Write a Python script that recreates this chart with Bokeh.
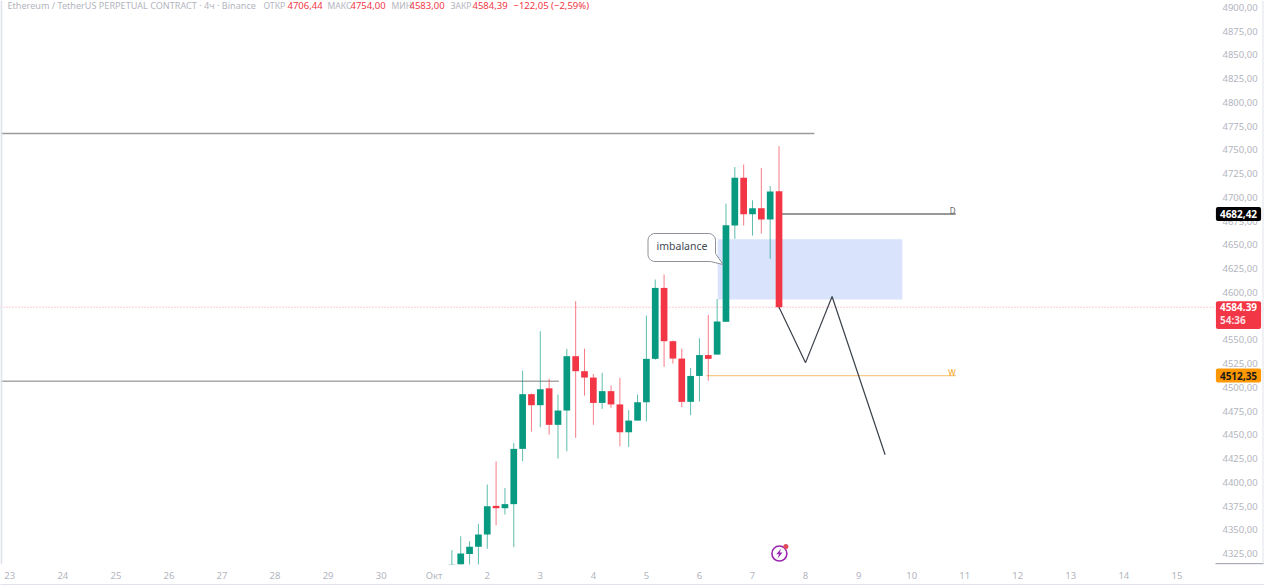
import numpy as np
from bokeh.embed import file_html
from bokeh.resources import INLINE
from bokeh.plotting import figure
from bokeh.models import Range1d, LinearAxis, FixedTicker, Label, Span
from bokeh.core.properties import value

# ---- data ----
opens = [4300, 4310, 4324.6, 4332, 4345, 4374.8, 4372.7, 4377, 4435.2, 4492.8, 4481.2, 4499, 4460.5, 4475.6, 4532.8, 4517,
         4510.3, 4483.6, 4496, 4482, 4452.7, 4465, 4484.3, 4530, 4604.7, 4548.6, 4530.3, 4484.7, 4512, 4534, 4534.5, 4569,
         4670.4, 4720.6, 4682.3, 4688.6, 4676.7, 4706.44]
closes = [4310, 4325, 4332, 4345, 4374.8, 4372.7, 4377, 4435.2, 4492.8, 4481.2, 4498, 4460.5, 4475.6, 4532.8, 4517, 4510.3,
          4483.6, 4496, 4482, 4452.7, 4465, 4484.3, 4530, 4604.7, 4548.6, 4530.3, 4484.7, 4512, 4534, 4530, 4569.3, 4670.7,
          4720.6, 4682.3, 4688.6, 4676.7, 4706.2, 4584.39]
highs = [4328.5, 4343.2, 4338, 4356.2, 4397.6, 4422, 4394, 4441.5, 4517.7, 4493.5, 4559, 4509, 4492.4, 4540.5, 4590.7, 4540.8,
         4514, 4515.2, 4502, 4510, 4476, 4492.4, 4575.6, 4613.5, 4618.8, 4549.3, 4540.8, 4520.5, 4551.7, 4576.3, 4593, 4693.5,
         4732, 4734.6, 4697, 4731, 4711.8, 4754]
lows = [4300, 4305, 4312, 4312, 4330, 4354.8, 4366, 4331.6, 4422.2, 4453.4, 4458, 4450.3, 4425, 4432.7, 4446.8, 4491.3,
        4460.5, 4477.3, 4478.4, 4438, 4437, 4465, 4464, 4529, 4521.5, 4525, 4479, 4470.6, 4485, 4507, 4534, 4569,
        4656.3, 4670.4, 4659.8, 4662, 4635.3, 4583]
first_candle_day = 1 + 2 / 6
candle_step = 1 / 6

price_ticks = list(range(4325, 4901, 25))
day_ticks = list(range(-7, 16))
day_labels = ["23", "24", "25", "26", "27", "28", "29", "30", "Окт", "2", "3", "4", "5", "6", "7", "8", "9", "10", "11", "12", "13", "14", "15"]

level_high = 4767.3
level_mid = 4506.4
level_d = 4682.42
level_w = 4512.35
last_close = 4584.39
zone = (6.344, 9.824, 4592.5, 4656.0)
zigzag_days = [7.5, 8.0, 8.5, 9.5]
zigzag_prices = [4584.4, 4526, 4595.7, 4429]

GREEN, RED = "#089981", "#F23645"
GREY_TXT = "#b2b5be"
EDGE = "#e0e3eb"
FONT = "Noto Sans"

days = [first_candle_day + i * candle_step for i in range(len(opens))]
is_up = [c >= o for o, c in zip(opens, closes)]
colors = [GREEN if u else RED for u in is_up]
tops = [max(o, c) for o, c in zip(opens, closes)]
bots = [min(o, c) for o, c in zip(opens, closes)]
thin = [max(t, b + 2.5) for t, b in zip(tops, bots)]

PX_DAY, PX_PRICE = 53.05, 0.9496
x0, x_pane_end = 1 - 433.7 / PX_DAY, 1 + (1213 - 433.7) / PX_DAY
x_end = 1 + (1264 - 433.7) / PX_DAY
p = figure(width=1264, height=585, output_backend="svg", toolbar_location=None,
           x_range=Range1d(x0, x_end),
           y_range=Range1d(4900 - 557 / PX_PRICE, 4900 + 7 / PX_PRICE),
           x_axis_location=None, y_axis_location=None,
           min_border_left=0, min_border_right=0, min_border_top=0, min_border_bottom=21,
           background_fill_color="white", border_fill_color="white")
p.outline_line_color = None
p.grid.visible = False

y_ax = LinearAxis(ticker=FixedTicker(ticks=price_ticks),
                  major_label_overrides={t: f"{t},00" for t in price_ticks})
x_ax = LinearAxis(ticker=FixedTicker(ticks=day_ticks),
                  major_label_overrides=dict(zip(day_ticks, day_labels)))
# empty axes below the dates only draw the hairline at the foot of the chart
spacer_ax = LinearAxis(ticker=FixedTicker(ticks=[]))
foot_ax = LinearAxis(ticker=FixedTicker(ticks=[]))
for ax in (x_ax, y_ax, spacer_ax, foot_ax):
    ax.axis_line_color = None
    ax.major_tick_line_color = None
    ax.major_tick_out = 0
    ax.major_tick_in = 0
    ax.minor_tick_line_color = None
    ax.minor_tick_out = 0
    ax.major_label_text_color = GREY_TXT
    ax.major_label_text_font = FONT
    ax.major_label_text_font_size = "9.5px"
x_ax.major_label_standoff = 4
y_ax.major_label_standoff = -42   # price scale sits inside the pane, so the badges can cover it
spacer_ax.major_tick_out = 2
spacer_ax.major_label_standoff = 0
foot_ax.major_label_standoff = 0
foot_ax.axis_line_color = EDGE
foot_ax.axis_line_width = 1
p.add_layout(y_ax, "right")
p.add_layout(x_ax, "below")
p.add_layout(spacer_ax, "below")
p.add_layout(foot_ax, "below")

p.add_layout(Span(location=x0 + 0.8 / PX_DAY, dimension="height", line_color=EDGE, line_width=2))
p.add_layout(Span(location=x_end - 1.5 / PX_DAY, dimension="height", line_color=EDGE, line_width=1))

p.quad(left=[zone[0]], right=[zone[1]], bottom=[zone[2]], top=[zone[3]], fill_color="#d9e3fc", line_color=None)

p.line([x0, 8.166], [level_high, level_high], line_color="#9a9a9a", line_width=1.5)
p.line([x0, 3.35], [level_mid, level_mid], line_color="#a8a8a8", line_width=1.5)
p.line([x0, x_pane_end], [last_close, last_close], line_color="#f2a0a8", line_width=1, line_dash="1 2")
p.line([7.5, 10.83], [level_d, level_d], line_color="#777777", line_width=1.5)
p.line([6.13, 10.83], [level_w, level_w], line_color="#f7c98b", line_width=1.2)
p.line([x_pane_end + 2 / PX_DAY, x_end], [4314.2, 4314.2], line_color="#8a8d96", line_width=1)

p.segment(days, highs, days, lows, line_color=colors, line_alpha=0.65, line_width=1)
p.vbar(x=days, bottom=bots, top=thin, width=0.126, fill_color=colors, line_color=None)

p.line(zigzag_days, zigzag_prices, line_color="#3a3f4a", line_width=1.2)

def corner(cx, cy, a0, a1, r=7):
    t = np.radians(np.linspace(a0, a1, 8))
    return list(cx + r * np.cos(t)), list(cy - r * np.sin(t))
L, R, T, B = 647.5, 715.0, 233.0, 261.0
xs, ys = [], []
for cx, cy, a0, a1 in [(L + 7, T + 7, 180, 90), (R - 7, T + 7, 90, 0)]:
    a, b = corner(cx, cy, a0, a1); xs += a; ys += b
xs += [R, 722.5, R - 5]; ys += [B - 8, 264.0, B]
a, b = corner(L + 7, B - 7, 270, 180); xs += a; ys += b
cx_days = [1 + (v - 433.7) / PX_DAY for v in xs]
cy_prices = [4900 - (v - 7) / PX_PRICE for v in ys]
p.patch(cx_days, cy_prices, fill_color="white", line_color="#8d9199", line_width=1)
p.text([1 + (681.5 - 433.7) / PX_DAY], [4649], text=["imbalance"], text_font=value(FONT), text_font_size="10.5px",
       text_color="#454a54", text_align="center", text_baseline="middle")

p.text([10.83], [level_d + 3.8], text=["D"], text_font=value(FONT), text_font_size="8px", text_color="#666666",
       text_align="right", text_baseline="middle")
p.text([10.83], [level_w + 3.2], text=["W"], text_font=value(FONT), text_font_size="8px", text_color="#f5a623",
       text_align="right", text_baseline="middle")

ic_d, ic_p = 7.507, 4325.0
p.scatter([ic_d], [ic_p], size=15, marker="circle", fill_color="white", line_color="#9c27b0", line_width=1.6)
bolt = [(1.8, -5), (-3.2, 0.8), (-0.4, 0.8), (-1.8, 5), (3.2, -1), (0.4, -1)]
p.patch([ic_d + a / PX_DAY for a, _ in bolt], [ic_p - b / PX_PRICE for _, b in bolt], fill_color="#9c27b0", line_color=None)
p.scatter([ic_d + 6.5 / PX_DAY], [ic_p + 7 / PX_PRICE], size=5, marker="circle", fill_color="#e04a5a", line_color=None)

head = [(7, "Ethereum / TetherUS PERPETUAL CONTRACT · 4ч · Binance", GREY_TXT, "9.1px"), (263, "ОТКР", GREY_TXT, "8.6px"),
        (287, "4706,44", RED, "9.5px"), (327, "МАКС", GREY_TXT, "8.6px"), (350, "4754,00", RED, "9.5px"),
        (391, "МИН", GREY_TXT, "8.6px"), (409, "4583,00", RED, "9.5px"), (450, "ЗАКР", GREY_TXT, "8.6px"),
        (472, "4584,39", RED, "9.5px"), (513, "−122,05 (−2,59%)", RED, "9.5px")]
for hx, ht, hc, hs in head:
    p.add_layout(Label(x=hx, y=559, x_units="screen", y_units="screen", text=ht, text_color=hc, text_font=FONT,
                       text_font_size=hs, text_baseline="middle", text_align="left"))

badges = [(level_d, "4682,42", "#000000", "#ffffff", (4, 3), 2),
          (last_close, "4584,39", RED, "#ffffff", (4, 2), (2, 2, 0, 0)),
          (last_close - 13.6, "54:36\u2007\u2007", RED, "#ffdfe2", (4, 2), (0, 0, 2, 2)),
          (level_w, "4512,35", "#ff9800", "#1a1a1a", (4, 3), 2)]
for price, txt, bg, fg, pad, rad in badges:
    p.add_layout(Label(x=1238, x_units="screen", y=price, y_units="data", text=txt, text_color=fg, text_font=FONT,
                       text_font_size="10px", text_font_style="bold", text_align="center", text_baseline="middle",
                       background_fill_color=bg, border_radius=rad, padding=pad))

open("out.html", "w").write(file_html(p, INLINE))
